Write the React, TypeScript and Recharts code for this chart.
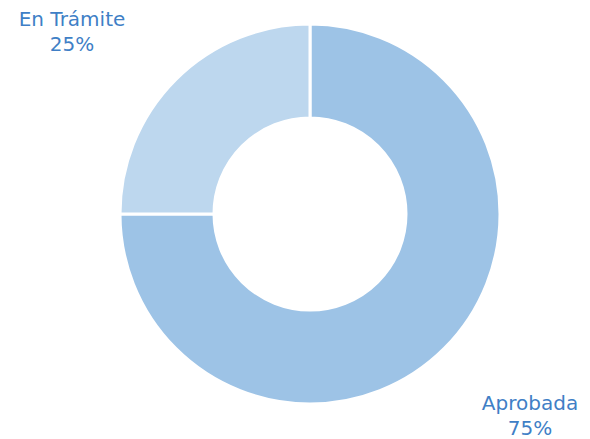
import React from 'react';
import { PieChart, Pie, Cell } from 'recharts';

const categories = ['Aprobada', 'En Trámite'];
const values = [75, 25];
const colors = ['#9DC3E6', '#BDD7EE'];

const data = categories.map((name, i) => ({ name, value: values[i] }));

const RAD = Math.PI / 180;

// label pushed out along the slice's middle angle, then held inside the canvas corners
const renderLabel = (props: any) => {
  const { cx, cy, midAngle, outerRadius, name, percent } = props;
  const r = outerRadius + 155;
  let x = cx + r * Math.cos(-midAngle * RAD);
  let y = cy + r * Math.sin(-midAngle * RAD);
  x = Math.max(72, Math.min(530, x));
  y = Math.max(26, Math.min(410, y));
  return (
    <text
      x={x}
      y={y}
      fill="#3F7FC6"
      fontSize={20}
      fontFamily="'DejaVu Sans', sans-serif"
      textAnchor="middle"
    >
      <tspan x={x} dy="0">{name}</tspan>
      <tspan x={x} dy="25">{`${Math.round(percent * 100)}%`}</tspan>
    </text>
  );
};

export default function App() {
  return (
    <div style={{ position: 'fixed', left: 0, top: 0, width: 590, height: 439, background: '#fff' }}>
      <PieChart width={590} height={439} margin={{ top: 0, right: 0, bottom: 0, left: 0 }}>
        <Pie
          data={data}
          dataKey="value"
          nameKey="name"
          cx={310}
          cy={214}
          innerRadius={96}
          outerRadius={190}
          startAngle={90}
          endAngle={-270}
          stroke="#ffffff"
          strokeWidth={3}
          label={renderLabel}
          labelLine={false}
          isAnimationActive={false}
        >
          {data.map((d, i) => (
            <Cell key={d.name} fill={colors[i]} />
          ))}
        </Pie>
      </PieChart>
    </div>
  );
}
